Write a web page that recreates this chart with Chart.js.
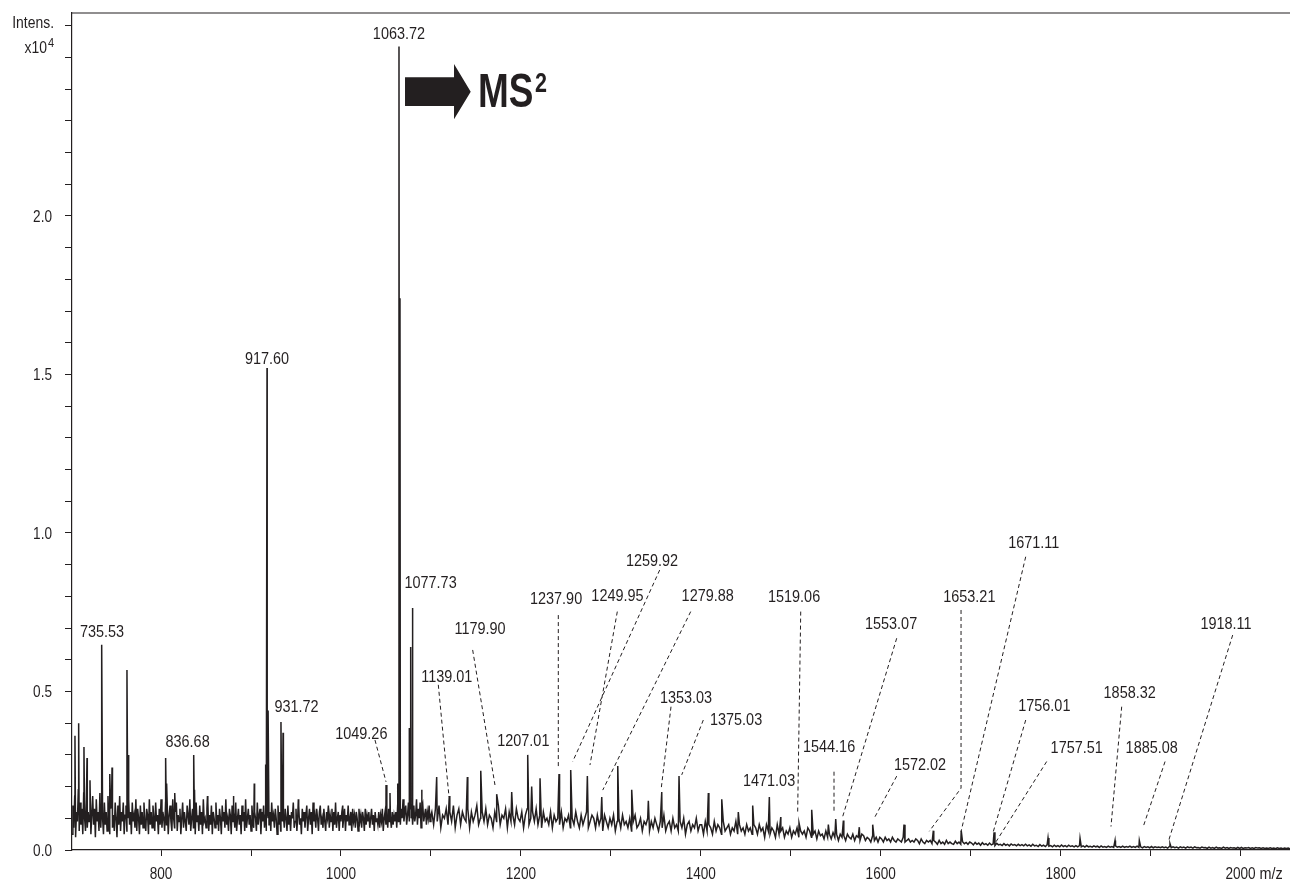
<!DOCTYPE html>
<html>
<head>
<meta charset="utf-8">
<script src="https://cdn.jsdelivr.net/npm/chart.js@4.4.1/dist/chart.umd.min.js"></script>
<style>
  html, body { margin: 0; padding: 0; background: #fff; }
  #wrap { width: 1290px; height: 881px; }
</style>
</head>
<body>
<div id="wrap"><canvas id="spectrum" width="1290" height="881"></canvas></div>
<script>
// intensities are in units of 100 counts, the axis shows x10^4
const noiseAStart = 701;
const noiseAStep = 1;
const noiseA = [
    5,14,7,17,4,12,9,19,6,15,8,13,5,18,10,6,16,7,12,9,
    15,5,11,17,8,13,4,16,9,12,6,18,7,14,10,5,15,8,12,6,
    17,9,5,13,16,7,11,6,15,10,4,14,8,17,6,12,9,15,5,11,
    14,6,10,16,8,12,5,15,9,11,7,16,6,13,10,5,14,8,12,7,
    15,9,6,13,11,5,16,8,12,7,14,10,6,15,9,11,5,13,8,16,
    7,12,10,6,15,8,13,5,11,14,9,6,16,10,7,12,15,6,11,9,
    13,5,10,15,7,12,9,6,14,11,8,16,6,10,13,7,12,5,15,9,
    11,6,14,8,12,5,16,9,10,7,13,15,6,11,8,14,5,12,10,7,
    15,8,11,6,13,10,5,14,9,12,7,16,8,10,6,13,11,5,14,9,
    12,7,15,6,10,13,8,11,5,14,9,12,6,16,7,10,13,8,11,6,
    14,9,7,12,10,6,15,8,11,13,5,12,9,14,7,11,6,13,10,8,
    12,6,15,9,11,7,13,10,5,14,8,12,6,16,9,11,7,13,10,6,
    14,8,11,6,12,10,15,7,9,13,6,11,14,8,10,5,13,9,12,7,
    11,14,6,10,13,8,12,5,15,9,11,7,13,10,6,12,14,8,10,7,
    13,9,6,12,10,14,7,11,9,13,6,12,8,15,7,10,12,6,11,9,
    12,7,10,13,6,11,9,14,8,10,12,6,13,9,11,7,12,10,6,13,
    9,11,7,12,10,6,13,8,11,9,12,7,10,13,8,11,6,12,9,10,
    8,12,7,11,9,13,6,10,12,8,11,7,13,9,10,7,12,8,11,9,
    12,7,14,9,15,8,13,10,16,9,12,14,8,11,15,9,13,10,12,8,
    14,9,11,16,8,13,10,15,7,12,14,9,11,13,8,12,10,14,9,11
];
const noiseBStart = 1101;
const noiseBStep = 2;
const noiseB = [
    12,8,13,9,14,7,11,10,13,8,12,9,14,7,11,13,8,12,10,9,13,7,12,9,11,14,8,10,12,9,
    13,8,11,10,7,12,9,14,8,11,10,13,7,12,9,11,8,13,10,9,12,7,11,13,8,10,12,9,13,8,
    11,7,12,9,10,8,12,7,11,9,10,8,12,7,10,9,11,7,10,8,12,9,7,11,8,10,12,7,9,11,
    10,7,11,8,10,6,11,9,7,10,8,11,6,9,10,7,11,8,9,7,10,6,9,11,7,8,10,6,9,8,
    10,6,9,7,10,8,6,9,7,11,6,8,9,6,10,7,8,6,9,7,10,5,8,9,6,8,7,10,6,8,
    8,5,9,6,8,7,5,9,6,8,7,5,9,6,7,8,5,7,6,9,5,8,6,7,5,8,6,7,5,8,
    7,5,8,6,7,4,8,6,5,7,6,4,8,5,6,7,4,6,5,7,4,6,5,7,4,6,5,6,4,7,
    6,4,5,6,3.5,6,4.5,5,3.5,6,4,5,3.5,5.5,4,5,3,5,4,4.5,3,5,4,3.5,5,3,4.5,4,3,5,
    4.5,3,4,3.5,2.5,4.5,3,4,2.5,4,3.5,2.5,4,3,3.5,2.5,4,3,2.5,3.5,3,2.5,4,2.5,3,3.5,2.5,3,2.5,3.5,
    3,2,3.5,2.5,2,3,2.5,3,2,3,2.5,1.8,3,2,2.5,1.8,3,2,2.5,2,1.8,2.8,2,2.5,1.8,2.6,2,2.4,1.8,2.5,
    2.2,1.6,2.4,1.8,2.2,1.5,2.3,1.7,2,1.5,2.2,1.6,1.9,1.4,2.1,1.6,1.8,1.4,2,1.5,1.8,1.3,1.9,1.5,1.7,1.3,1.8,1.4,1.7,1.3,
    1.8,1.3,1.6,1.2,1.8,1.3,1.5,1.1,1.7,1.2,1.5,1.1,1.6,1.2,1.4,1,1.5,1.1,1.4,1,1.6,1.1,1.4,1,1.5,1.1,1.3,1,1.4,1,
    1.4,1,1.3,0.9,1.4,1,1.2,0.9,1.3,1,1.2,0.8,1.3,0.9,1.1,0.8,1.2,0.9,1.1,0.8,1.3,0.9,1.1,0.8,1.2,0.8,1.1,0.9,1.2,0.8,
    1.1,0.8,1.2,0.8,1,0.7,1.1,0.8,1,0.7,1.1,0.7,1,0.8,0.9,0.7,1,0.7,0.9,0.6,1.1,0.7,1,0.7,0.9,0.6,1,0.7,0.9,0.6,
    1,0.7,0.9,0.6,1,0.7,0.8,0.6,0.9,0.7,0.8,0.5,0.9,0.6,0.8,0.5,0.9,0.6,0.7,0.5,0.9,0.6,0.8,0.5,0.8,0.6,0.7,0.5,0.8,0.5,
    0.8,0.5,0.7,0.6,0.8,0.5,0.7,0.5,0.8,0.6,0.7,0.5,0.7,0.5,0.6,0.5,0.7,0.5,0.6,0.4,0.7,0.5,0.6,0.4,0.6,0.5,0.6,0.4
];

const peakMz = [704.3, 708.4, 714.3, 717.7, 721.0, 734.0, 743.0, 745.5, 762.1, 763.8,
    805.1, 806.2, 815.2, 836.3, 837.2, 851.6, 880.3, 903.6, 916.3, 917.8, 919.0, 933.3, 935.6,
    952.6, 1001.9, 1050.1, 1054.5, 1063.1, 1064.5, 1065.6, 1076.0, 1077.5, 1079.3, 1089.8,
    1106.4, 1120.4, 1140.5, 1155.4, 1173.1, 1189.8, 1207.6, 1212.0, 1221.3, 1242.4, 1255.4,
    1273.9, 1289.9, 1307.7, 1323.2, 1341.7, 1356.6, 1375.8, 1408.4, 1423.3, 1441.7, 1457.7,
    1476.2, 1488.9, 1509.2, 1523.3, 1541.8, 1550.0, 1558.5, 1576.2, 1591.1, 1625.9, 1658.5,
    1689.5, 1726.0, 1786.0, 1821.6, 1860.5, 1887.5, 1921.6];
const peakInt = [36, 40, 32.5, 29, 22, 64.7, 24, 26, 56.8, 30,
    29, 21, 18, 30, 19, 17, 17, 21, 27, 152, 44, 40.4, 37,
    16, 14, 20.5, 18, 21, 253.4, 174, 38.5, 64, 76.3, 19,
    23, 17, 23, 25, 17.6, 18.3, 30, 20, 22.6, 24, 25.2,
    23.3, 16.7, 26.5, 19, 15.5, 18.3, 23.3, 18, 16, 12, 14,
    16.7, 10.4, 8.5, 12.7, 8, 9.8, 9.3, 7.2, 8, 8, 6.1,
    6.1, 5.6, 3.8, 3.7, 3.0, 3.0, 2.0];

const xTickValues = [800, 1000, 1200, 1400, 1600, 1800, 2000];
const yTickValues = [0, 0.5, 1.0, 1.5, 2.0];

// peak labels: text and where the text sits (m/z, intensity)
const labelText = ['735.53', '836.68', '917.60', '931.72', '1049.26', '1063.72', '1077.73',
    '1139.01', '1179.90', '1207.01', '1237.90', '1249.95', '1259.92', '1279.88', '1353.03',
    '1375.03', '1471.03', '1519.06', '1544.16', '1553.07', '1572.02', '1653.21', '1671.11',
    '1756.01', '1757.51', '1858.32', '1885.08', '1918.11'];
const labelMz = [734.4, 829.5, 917.8, 950.6, 1022.6, 1064.5, 1099.6,
    1117.6, 1154.6, 1202.7, 1239.1, 1307.4, 1345.8, 1407.7, 1383.6,
    1439.2, 1475.9, 1503.7, 1542.6, 1611.5, 1643.7, 1698.5, 1770.1,
    1781.9, 1817.9, 1876.8, 1901.3, 1983.9];
const labelInt = [69.1, 34.4, 155.2, 45.4, 37.0, 257.6, 84.6,
    54.9, 70.0, 34.7, 79.5, 80.4, 91.5, 80.4, 48.3,
    41.3, 22.1, 80.1, 32.8, 71.7, 27.0, 80.1, 97.3,
    45.7, 32.6, 49.9, 32.6, 71.5];

// dashed leader lines from a label down to its peak
const leaders = {
    '1049.26': [[1037.8, 34.7], [1050.1, 21.5]],
    '1139.01': [[1108.2, 52.1], [1120.1, 16.8]],
    '1179.90': [[1146.4, 63.1], [1171.2, 20.5]],
    '1237.90': [[1241.6, 74.1], [1241.6, 26.3]],
    '1249.95': [[1307.2, 75.2], [1276.8, 26.8]],
    '1259.92': [[1354.3, 88.3], [1257.6, 27.9]],
    '1279.88': [[1388.8, 75.2], [1291.0, 18.9]],
    '1353.03': [[1366.9, 45.2], [1355.8, 18.9]],
    '1375.03': [[1402.8, 41.0], [1378.8, 23.7]],
    '1519.06': [[1511.1, 75.2], [1507.7, 12.1]],
    '1544.16': [[1548.1, 24.7], [1548.1, 11.6]],
    '1553.07': [[1617.8, 66.8], [1557.7, 10.5]],
    '1572.02': [[1617.8, 23.3], [1593.7, 10.5]],
    '1653.21': [[1689.3, 75.7], [1689.3, 19.5], [1654.0, 5.9]],
    '1671.11': [[1761.2, 92.5], [1689.3, 5.8]],
    '1756.01': [[1761.2, 41.0], [1725.2, 5.8]],
    '1757.51': [[1784.5, 27.9], [1728.2, 2.6]],
    '1858.32': [[1867.9, 45.2], [1856.0, 7.4]],
    '1885.08': [[1916.1, 27.9], [1891.9, 7.4]],
    '1918.11': [[1991.3, 67.8], [1919.7, 2.6]]
};

const INK = '#231f20';
const FONT = '"Liberation Sans", Arial, sans-serif';

// build the trace: noise samples plus the peak maxima, sorted by m/z
const trace = [];
noiseA.forEach((v, i) => trace.push({x: noiseAStart + i * noiseAStep, y: v / 100}));
noiseB.forEach((v, i) => trace.push({x: noiseBStart + i * noiseBStep, y: v / 100}));
peakMz.forEach((m, i) => trace.push({x: m, y: peakInt[i] / 100}));
trace.sort((a, b) => a.x - b.x);

function narrowText(ctx, txt, px, py, font, sx, align) {
    ctx.save();
    ctx.font = font;
    ctx.textAlign = align;
    ctx.textBaseline = 'alphabetic';
    ctx.translate(px, py);
    ctx.scale(sx, 1);
    ctx.fillText(txt, 0, 0);
    ctx.restore();
}

const annotPlugin = {
    id: 'annot',
    afterDraw(chart) {
        const ctx = chart.ctx;
        const a = chart.chartArea;
        const x = chart.scales.x;
        const y = chart.scales.y;
        ctx.save();
        ctx.fillStyle = INK;
        ctx.strokeStyle = INK;

        // top frame line
        ctx.lineWidth = 1.2;
        ctx.beginPath();
        ctx.moveTo(a.left, a.top);
        ctx.lineTo(a.right, a.top);
        ctx.stroke();

        // tick labels
        yTickValues.forEach(v => {
            narrowText(ctx, v.toFixed(1), a.left - 20, y.getPixelForValue(v) + 6, '17px ' + FONT, 0.8, 'right');
        });
        xTickValues.forEach(v => {
            narrowText(ctx, String(v), x.getPixelForValue(v), a.bottom + 29, '17px ' + FONT, 0.8, 'center');
        });
        narrowText(ctx, 'm/z', x.getPixelForValue(2000) + 19, a.bottom + 29, '17px ' + FONT, 0.85, 'left');

        // axis title
        narrowText(ctx, 'Intens.', 54, 28, '17px ' + FONT, 0.82, 'right');
        narrowText(ctx, 'x10', 47, 53, '17px ' + FONT, 0.82, 'right');
        narrowText(ctx, '4', 48, 47, '13px ' + FONT, 0.85, 'left');

        // leaders
        ctx.lineWidth = 1;
        ctx.setLineDash([4, 3]);
        Object.keys(leaders).forEach(k => {
            const pts = leaders[k];
            ctx.beginPath();
            pts.forEach((p, i) => {
                const px = x.getPixelForValue(p[0]);
                const py = y.getPixelForValue(p[1] / 100);
                if (i === 0) ctx.moveTo(px, py); else ctx.lineTo(px, py);
            });
            ctx.stroke();
        });
        ctx.setLineDash([]);

        // peak labels
        labelText.forEach((t, i) => {
            const px = x.getPixelForValue(labelMz[i]);
            const py = y.getPixelForValue(labelInt[i] / 100);
            narrowText(ctx, t, px, py + 6, '17px ' + FONT, 0.85, 'center');
        });

        // arrow and MS2
        const ax = x.getPixelForValue(1071.2);
        const ay = y.getPixelForValue(2.392);
        ctx.beginPath();
        ctx.moveTo(ax, ay - 14.3);
        ctx.lineTo(ax + 49, ay - 14.3);
        ctx.lineTo(ax + 49, ay - 27.7);
        ctx.lineTo(ax + 65.7, ay);
        ctx.lineTo(ax + 49, ay + 27.7);
        ctx.lineTo(ax + 49, ay + 14.3);
        ctx.lineTo(ax, ay + 14.3);
        ctx.closePath();
        ctx.fill();
        narrowText(ctx, 'MS', ax + 73, ay + 15.6, 'bold 48px ' + FONT, 0.77, 'left');
        narrowText(ctx, '2', ax + 130, ay, 'bold 28px ' + FONT, 0.77, 'left');

        ctx.restore();
    }
};

const ctx = document.getElementById('spectrum');
new Chart(ctx, {
    type: 'line',
    data: {
        datasets: [{
            data: trace,
            borderColor: INK,
            borderWidth: 1.5,
            borderJoinStyle: 'miter',
            pointRadius: 0,
            tension: 0,
            fill: false
        }]
    },
    options: {
        responsive: false,
        animation: false,
        devicePixelRatio: 1,
        layout: { padding: { top: 13, left: 0, right: 0, bottom: 0 } },
        plugins: { legend: { display: false }, tooltip: { enabled: false } },
        scales: {
            x: {
                type: 'linear',
                min: 701,
                max: 2055,
                ticks: { stepSize: 100, includeBounds: false, autoSkip: false, callback: () => '' },
                grid: { drawOnChartArea: false, drawTicks: true, tickLength: 6, color: INK, lineWidth: 1 },
                border: { display: true, color: INK, width: 1.2 },
                afterFit: s => { s.height = 31; }
            },
            y: {
                type: 'linear',
                min: 0,
                max: 2.64,
                ticks: { stepSize: 0.1, includeBounds: false, autoSkip: false, callback: () => '' },
                grid: { drawOnChartArea: false, drawTicks: true, tickLength: 7, color: INK, lineWidth: 1 },
                border: { display: true, color: INK, width: 1.2 },
                afterFit: s => { s.width = 72; }
            }
        }
    },
    plugins: [annotPlugin]
});
</script>
</body>
</html>
